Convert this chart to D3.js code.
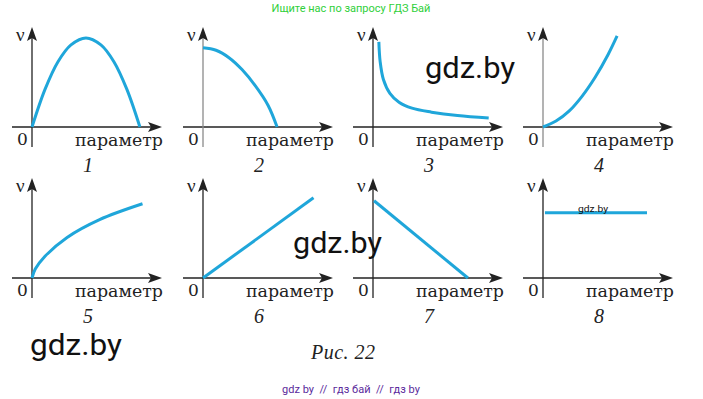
<!DOCTYPE html>
<html lang="ru">
<head>
<meta charset="UTF-8" />
<title>Рис. 22</title>
<script src="https://d3js.org/d3.v7.min.js"></script>
<style>
  body { margin: 0; background: #fff; }
  svg { display: block; }
  .axis { stroke: #222; stroke-width: 1.3px; fill: none; }
  .axis.grey { stroke: #8a8a8a; }
  .arrow { fill: #222; }
  .curve { fill: none; stroke: #1fa6da; stroke-width: 3px; stroke-linecap: butt; }
  .lbl { font-family: "DejaVu Serif", "Liberation Serif", serif; font-size: 17px; fill: #222; }
  .nu { font-family: "Liberation Serif", serif; font-size: 19px; fill: #222; }
  .num { font-family: "Liberation Serif", serif; font-style: italic; font-size: 20px; fill: #222; }
  .wm { font-family: Roboto, "Noto Sans", sans-serif; fill: #111; }
</style>
</head>
<body>
<svg width="703" height="399"></svg>
<script>
// значения (параметр 0..10, v 0..10)
const curve1 = [[0,0],[1,3.8],[2,6.6],[3,8.3],[4.15,9.0],[5.3,8.3],[6.3,6.6],[7.3,3.8],[8.3,0]];
const curve2 = [[0,8.0],[1,7.75],[2,7.0],[3,5.8],[4,4.2],[5,2.2],[5.7,0]];
const curve3 = [[0.45,8.6],[0.55,6.6],[0.8,4.8],[1.3,3.4],[2,2.5],[3,1.9],[4.5,1.5],[6.5,1.15],[8.9,0.9]];
const curve4 = [[0,0],[1,0.6],[2,1.6],[3,3.1],[4,5.0],[5,7.3],[5.7,9.2]];
const curve5 = [[0,0],[0.25,0.9],[1,2.2],[2.7,4.1],[5.2,5.9],[8.5,7.5]];
const curve6 = [[0,0],[8.5,8.1]];
const curve7 = [[0.08,7.8],[7.3,0]];
const curve8 = [[0.15,6.6],[8.0,6.6]];
const curves = [curve1, curve2, curve3, curve4, curve5, curve6, curve7, curve8];
const panelNames = ["1","2","3","4","5","6","7","8"];
const greyAxis = [false, true, false, true, false, false, false, false];
const xLabel = "параметр";
const yLabel = "ν";

const svg = d3.select("svg");

const colX = [32, 203, 373, 543];
const rowY = [127, 278];
const x = d3.scaleLinear().domain([0, 10]).range([0, 130]);
const y = d3.scaleLinear().domain([0, 10]).range([0, -99]);
const line = d3.line().x(d => x(d[0])).y(d => y(d[1])).curve(d3.curveCatmullRom.alpha(0.5));

curves.forEach((c, i) => {
  const g = svg.append("g")
    .attr("transform", `translate(${colX[i % 4]},${rowY[Math.floor(i / 4)]})`);

  // оси
  g.append("line").attr("class", "axis").attr("x1", -20).attr("x2", 122).attr("y1", 0).attr("y2", 0);
  g.append("line").attr("class", greyAxis[i] ? "axis grey" : "axis")
    .attr("x1", 0).attr("x2", 0).attr("y1", 20).attr("y2", -92);
  g.append("path").attr("class", "arrow").attr("d", "M130,0 L116,-5 L119,0 L116,5 Z");
  g.append("path").attr("class", "arrow").attr("d", "M0,-100 L-5,-86 L0,-89 L5,-86 Z");

  g.append("path").attr("class", "curve").attr("d", line(c));

  g.append("text").attr("class", "lbl").attr("x", -15).attr("y", 18).text("0");
  g.append("text").attr("class", "lbl").attr("x", 43).attr("y", 19)
    .attr("textLength", 88).attr("lengthAdjust", "spacingAndGlyphs").text(xLabel);
  g.append("text").attr("class", "nu").attr("x", -16).attr("y", -86).text(yLabel);
  g.append("text").attr("class", "num").attr("x", 56).attr("y", 45)
    .attr("text-anchor", "middle").text(panelNames[i]);
});

svg.append("text").attr("class", "num").attr("x", 343).attr("y", 359)
  .attr("text-anchor", "middle").attr("font-size", 21)
  .attr("textLength", 64).text("Рис. 22");

// надписи сайта
svg.append("text").attr("x", 351).attr("y", 12).attr("text-anchor", "middle")
  .attr("font-family", "Roboto, sans-serif").attr("font-size", 11).attr("fill", "#2fcf3a")
  .text("Ищите нас по запросу ГДЗ Бай");
svg.append("text").attr("x", 351).attr("y", 393).attr("text-anchor", "middle")
  .attr("font-family", "Roboto, sans-serif").attr("font-size", 11).attr("fill", "#5b2a9c")
  .style("white-space", "pre")
  .text("gdz by  //  гдз бай  //  гдз by");

const marks = [[425, 78, 90, 29], [293, 253, 89, 29], [30, 355, 92, 29], [578, 212, 30, 9]];
marks.forEach(m => {
  svg.append("text").attr("class", "wm").attr("x", m[0]).attr("y", m[1])
    .attr("font-size", m[3]).attr("textLength", m[2]).attr("lengthAdjust", "spacingAndGlyphs")
    .text("gdz.by");
});
</script>
</body>
</html>
